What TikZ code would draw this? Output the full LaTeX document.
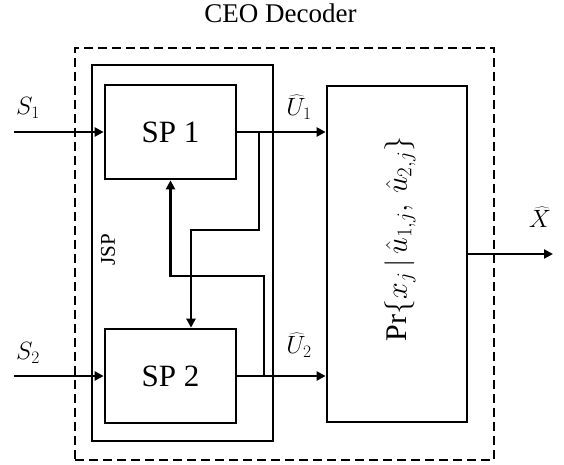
\RequirePackage{fix-cm}
\documentclass[tikz,border=0pt]{standalone}
\usepackage{fontspec}
\setmainfont{Liberation Serif}
\usetikzlibrary{arrows.meta}
\tikzset{
  blk/.style={draw, line width=2.7pt, inner sep=0pt},
  jspbox/.style={draw, line width=1.6pt, inner sep=0pt},
  dbox/.style={draw, line width=1.8pt, dash pattern=on 9pt off 5pt, inner sep=0pt},
  conn/.style={line width=2.5pt},
  arr/.style={conn, -{Triangle[length=9pt,width=9pt]}},
  lbl/.style={font=\fontsize{25}{27}\selectfont, inner sep=0pt}
}
\begin{document}
\begin{tikzpicture}[x=1pt,y=-1pt]
\useasboundingbox (0,0) rectangle (564,464);
\node[dbox, minimum width=419pt, minimum height=412pt] (ceo) at (284.5,254) {};
\node[jspbox, minimum width=181pt, minimum height=376pt] (jsp) at (182.5,253) {};
\node[blk, minimum width=131pt, minimum height=94pt, font=\fontsize{31}{34}\selectfont] (sp1) at (170.5,132) {SP 1};
\node[blk, minimum width=131pt, minimum height=94pt, font=\fontsize{31}{34}\selectfont] (sp2) at (170.5,376) {SP 2};
\node[blk, minimum width=140pt, minimum height=336pt] (pr) at (397,254) {};
\node[rotate=90, inner sep=0pt, font=\fontsize{30}{33}\selectfont] (prt) at (400,239) {$\mathrm{Pr}\{x_j\,|\,\hat{u}_{1,j},\,\hat{u}_{2,j}\}$};
\node[anchor=base, inner sep=0pt, font=\fontsize{27}{30}\selectfont] (title) at (280.5,22) {CEO Decoder};
\node[rotate=90, inner sep=0pt, font=\fontsize{21}{23}\selectfont] (jspl) at (108,250) {JSP};
\node[lbl] (s1) at (28,108) {$S_1$};
\node[lbl] (s2) at (28,353) {$S_2$};
\node[lbl] (u1) at (299,107) {$\widehat{U}_1$};
\node[lbl] (u2) at (299,345) {$\widehat{U}_2$};
\node[lbl] (xh) at (540,217) {$\widehat{X}$};
\coordinate (in1) at (14,132);
\coordinate (in2) at (14,376);
\coordinate (out) at (553,254);
\coordinate (j1) at (259,132);
\coordinate (j2) at (264,376);
\draw[arr] (in1) -- (sp1.west);
\draw[arr] (in2) -- (sp2.west);
\draw[arr] (sp1.east) -- (pr.west |- sp1.east);
\draw[arr] (sp2.east) -- (pr.west |- sp2.east);
\draw[arr] (pr.east |- out) -- (out);
\draw[arr] (j1) -- (259,230) -- (191,230) -- (sp2.north -| 191,0);
\draw[arr] (j2) -- (264,276) -- (170.5,276) -- (sp1.south);
\end{tikzpicture}
\end{document}
